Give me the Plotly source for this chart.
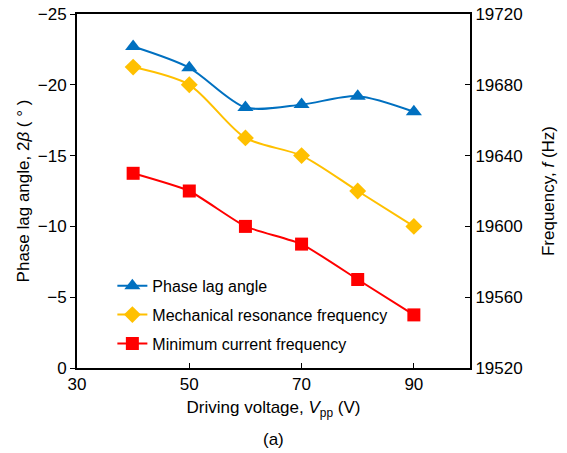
import plotly.graph_objects as go

voltage = [40, 50, 60, 70, 80, 90]
phase_lag = [-22.7, -21.2, -18.4, -18.6, -19.2, -18.1]
mech_freq = [19690, 19680, 19650, 19640, 19620, 19600]
min_cur_freq = [19630, 19620, 19600, 19590, 19570, 19550]

x_ticks = [30, 50, 70, 90]
y_left_ticks = [0, -5, -10, -15, -20, -25]
y_right_ticks = [19520, 19560, 19600, 19640, 19680, 19720]

BLUE = "#0070C0"
YEL = "#FFC000"
RED = "#FF0000"
FONT = "Liberation Sans, Arial, sans-serif"

fig = go.Figure()
fig.add_trace(go.Scatter(x=voltage, y=phase_lag, name="Phase lag angle", mode="lines+markers",
                         line=dict(color=BLUE, width=2, shape="spline", smoothing=0.8),
                         marker=dict(symbol="triangle-up", size=14, color=BLUE),
                         legendgroup="a"))
fig.add_trace(go.Scatter(x=voltage, y=mech_freq, name="Mechanical resonance frequency", mode="lines+markers",
                         line=dict(color=YEL, width=2, shape="spline", smoothing=0.8),
                         marker=dict(symbol="diamond", size=13, color=YEL),
                         yaxis="y2", legendgroup="b"))
fig.add_trace(go.Scatter(x=voltage, y=min_cur_freq, name="Minimum current frequency", mode="lines+markers",
                         line=dict(color=RED, width=2, shape="spline", smoothing=0.5),
                         marker=dict(symbol="square", size=13, color=RED),
                         yaxis="y2", legendgroup="c"))

fig.update_layout(
    width=567, height=453,
    margin=dict(l=77, r=97, t=14, b=85, autoexpand=False),
    plot_bgcolor="white", paper_bgcolor="white",
    font=dict(family=FONT, size=17, color="black"),
    showlegend=True,
    legend=dict(x=0.09, y=0.28, xanchor="left", yanchor="top", bgcolor="rgba(0,0,0,0)",
                font=dict(size=16), tracegroupgap=5),
    xaxis=dict(range=[30, 100], tickvals=x_ticks, showline=True, linecolor="black", linewidth=2,
               mirror=True, ticks="inside", ticklen=5, tickcolor="black", showgrid=False, zeroline=False,
               automargin=False,
               title=dict(text="Driving voltage, <i>V</i><sub>pp</sub> (V)", font=dict(size=17), standoff=8)),
    yaxis=dict(range=[0, -25], tickvals=y_left_ticks, showline=True, linecolor="black", linewidth=2,
               ticks="outside", ticklen=5, tickcolor="black", showgrid=False, zeroline=False,
               automargin=False,
               title=dict(text="Phase lag angle, 2<i>β</i> ( ° )", font=dict(size=17), standoff=4)),
    yaxis2=dict(range=[19520, 19720], tickvals=y_right_ticks, tickformat="d", overlaying="y", side="right",
                showline=True, linecolor="black", linewidth=2, ticks="inside", ticklen=5, tickcolor="black",
                showgrid=False, zeroline=False, automargin=False,
                title=dict(text="Frequency, <i>f</i> (Hz)", font=dict(size=17), standoff=20)),
    annotations=[dict(text="(a)", x=0.5, xref="paper", y=-0.17, yref="paper", yanchor="top",
                      showarrow=False, font=dict(size=17))],
)

fig.write_html("out.html")
